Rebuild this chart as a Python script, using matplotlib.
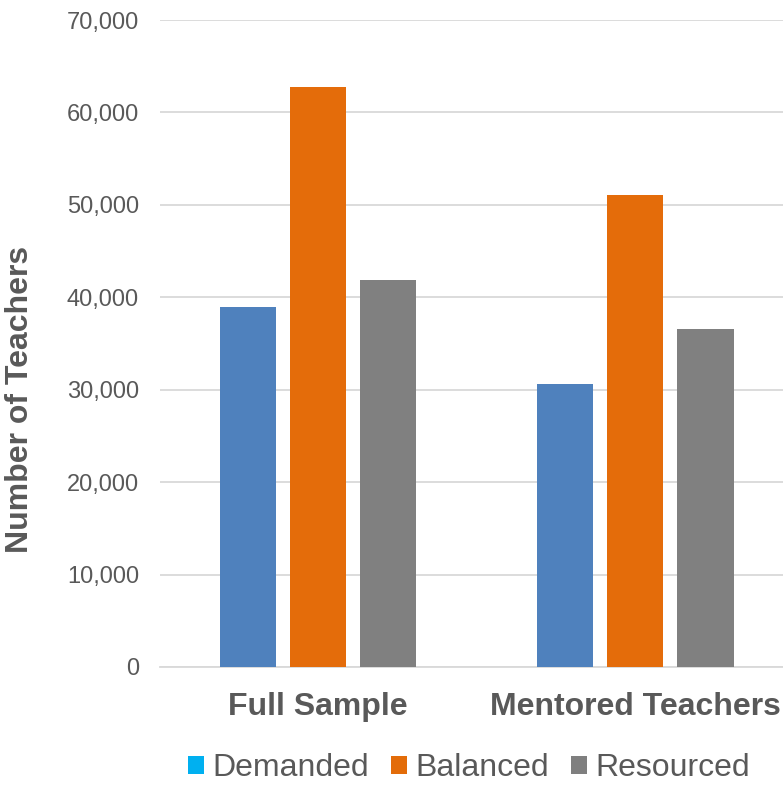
import numpy as np
import matplotlib.pyplot as plt
from matplotlib.patches import Patch
from matplotlib.ticker import FuncFormatter

plt.rcParams['font.family'] = ['Liberation Sans', 'DejaVu Sans']

# 数据
groups = ['Full Sample', 'Mentored Teachers']
series = ['Demanded', 'Balanced', 'Resourced']
demanded = [38900, 30600]
balanced = [62800, 51100]
resourced = [41900, 36600]

bar_colors = ['#4F81BD', '#E46C0A', '#808080']
legend_colors = ['#00B0F0', '#E36C09', '#7F7F7F']
text_color = '#595959'
grid_color = '#D9D9D9'

fig = plt.figure(figsize=(7.83, 7.87), dpi=100)
ax = fig.add_axes([0.204, 0.1525, 0.81, 0.822])

x = np.arange(len(groups))
width = 0.177
step = 0.221
for i, vals in enumerate([demanded, balanced, resourced]):
    ax.bar(x + (i - 1) * step, vals, width, color=bar_colors[i], zorder=3)

ax.set_xlim(-0.5, 1.5)
ax.set_ylim(0, 70000)
ax.set_yticks(np.arange(0, 70001, 10000))
ax.yaxis.set_major_formatter(FuncFormatter(lambda v, p: f'{int(v):,}'))
ax.set_xticks(x)
ax.set_xticklabels(groups, fontsize=23, fontweight='bold', color=text_color)
ax.tick_params(axis='y', labelsize=17, colors=text_color, length=0, pad=15)
ax.tick_params(axis='x', length=0, pad=18)

ax.grid(axis='y', color=grid_color, linewidth=1.3, zorder=0)
for s in ['top', 'right', 'left']:
    ax.spines[s].set_visible(False)
ax.spines['bottom'].set_color(grid_color)
ax.spines['bottom'].set_linewidth(1.3)

# 纵轴标题
fig.text(20 / 783, 0.493, 'Number of Teachers', rotation=90, ha='center',
         va='center', fontsize=23, fontweight='bold', color=text_color)

# 图例
handles = [Patch(facecolor=c, edgecolor='none') for c in legend_colors]
fig.legend(handles, series, loc='center', bbox_to_anchor=(0.599, 0.024),
           ncol=3, frameon=False, fontsize=23, labelcolor=text_color,
           handlelength=0.5, handleheight=0.5, handletextpad=0.25,
           columnspacing=0.7, borderpad=0.1)

fig.savefig('out.png', dpi=100)
